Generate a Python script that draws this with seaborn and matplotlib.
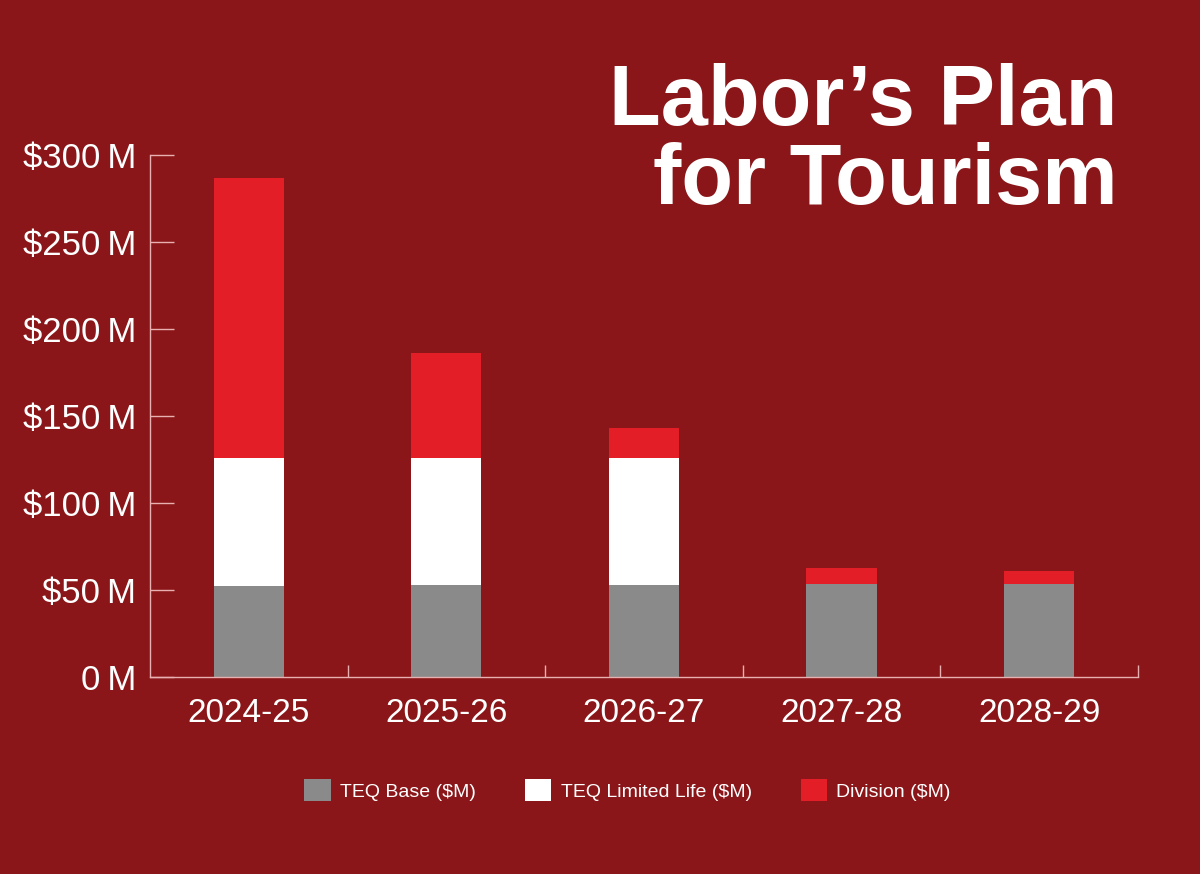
import numpy as np
import pandas as pd
import matplotlib
matplotlib.use("Agg")
import matplotlib.pyplot as plt
from matplotlib.patches import Patch
from matplotlib.ticker import FixedLocator, FuncFormatter
import seaborn as sns

# ---- data ----
years = ["2024-25", "2025-26", "2026-27", "2027-28", "2028-29"]
teq_base = [52.4, 52.8, 53.0, 53.2, 53.6]
teq_limited = [73.5, 73.1, 72.9, 0.0, 0.0]
division = [161.0, 60.1, 17.4, 9.6, 7.1]
series_labels = ["TEQ Base ($M)", "TEQ Limited Life ($M)", "Division ($M)"]
y_ticks = [0, 50, 100, 150, 200, 250, 300]
title_lines = ["Labor\u2019s Plan", "for Tourism"]

BG = "#8A1619"
GRAY = "#8A8A8A"
WHITE = "#FFFFFF"
RED = "#E31E26"
AXC = "#E8B0B0"

sns.set_theme(style="white")
plt.rcParams["font.family"] = ["Liberation Sans", "DejaVu Sans"]

df = pd.DataFrame({"year": years, "base": teq_base,
                   "limited": teq_limited, "division": division})
df["lvl1"] = df["base"]
df["lvl2"] = df["base"] + df["limited"]
df["lvl3"] = df["lvl2"] + df["division"]

fig = plt.figure(figsize=(12, 8.74), dpi=100, facecolor=BG)
ax = fig.add_axes([0.125, 0.2254, 0.9483 - 0.125, 0.8227 - 0.2254])
ax.set_facecolor(BG)

bw = 0.355
sns.barplot(data=df, x="year", y="lvl3", color=RED, width=bw, saturation=1,
            ax=ax, linewidth=0)
sns.barplot(data=df, x="year", y="lvl2", color=WHITE, width=bw, saturation=1,
            ax=ax, linewidth=0)
sns.barplot(data=df, x="year", y="lvl1", color=GRAY, width=bw, saturation=1,
            ax=ax, linewidth=0)

ax.set_xlim(-0.5, 4.5)
ax.set_ylim(0, 300)
ax.set_xlabel("")
ax.set_ylabel("")

for s in ["top", "right"]:
    ax.spines[s].set_visible(False)
for s in ["left", "bottom"]:
    ax.spines[s].set_color(AXC)
    ax.spines[s].set_linewidth(1.0)

ax.yaxis.set_major_locator(FixedLocator(y_ticks))
ax.yaxis.set_major_formatter(FuncFormatter(
    lambda v, p: "0\u2009M" if v == 0 else f"${int(v)}\u2009M"))
ax.tick_params(axis="y", direction="in", length=17, width=1.0, color=AXC,
               labelsize=25, labelcolor=WHITE, pad=10, left=True)
ax.tick_params(axis="x", which="major", length=0, labelsize=24,
               labelcolor=WHITE, pad=15, bottom=True)
ax.xaxis.set_minor_locator(FixedLocator([0.5, 1.5, 2.5, 3.5, 4.5]))
ax.tick_params(axis="x", which="minor", direction="in", length=9, width=1.0,
               color=AXC, bottom=True)

# title
fig.text(0.931, 1 - 125 / 874, title_lines[0], ha="right", va="baseline",
         fontsize=61, fontweight="bold", color=WHITE)
fig.text(0.931, 1 - 204 / 874, title_lines[1], ha="right", va="baseline",
         fontsize=61, fontweight="bold", color=WHITE)

# legend
handles = [Patch(facecolor=c, edgecolor="none", label=l)
           for c, l in zip([GRAY, WHITE, RED], series_labels)]
leg = fig.legend(handles=handles, loc="center", bbox_to_anchor=(0.523, 0.096),
                 ncol=3, frameon=False, fontsize=14, labelcolor=WHITE,
                 handlelength=1.35, handleheight=1.3, handletextpad=0.5,
                 columnspacing=2.5)

fig.savefig("out.png", dpi=100, facecolor=BG)
